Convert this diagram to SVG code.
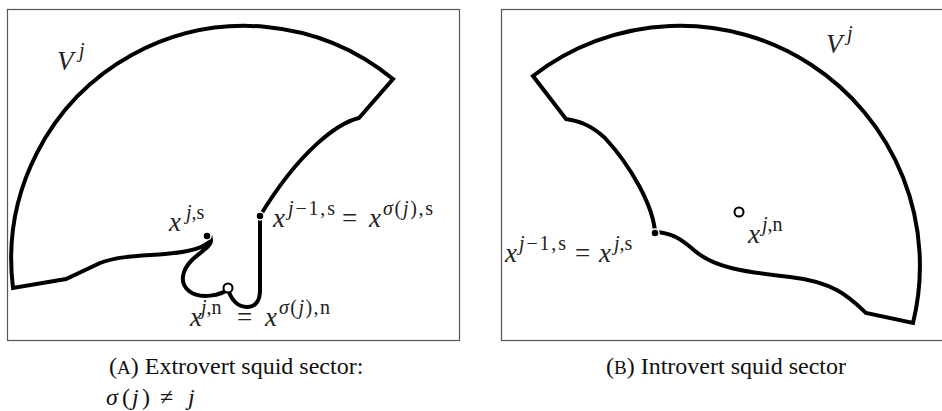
<svg xmlns="http://www.w3.org/2000/svg" width="942" height="411" viewBox="0 0 942 411">
<style>
.frame{fill:none;stroke:#555;stroke-width:1.2}
.shape{fill:none;stroke:#000;stroke-width:4;stroke-linejoin:miter;stroke-linecap:round}
.dot{fill:#000;stroke:#fff;stroke-width:1.5}
.odot{fill:#fff;stroke:#000;stroke-width:2}
.m{font-family:"Liberation Serif","Times New Roman",serif;font-size:27px;fill:#222}
.s{font-size:20px}
.i{font-style:italic}
.cap{font-family:"Liberation Serif","Times New Roman",serif;font-size:24px;fill:#111}
</style>
<rect width="942" height="411" fill="#fff"/>
<g id="panel-a">
  <rect class="frame" x="7.5" y="9.5" width="452" height="331"/>
  <path class="shape" d="M260 216 L260 290 C260 300 256 307 247 307 C238 307 231 300 228 289 C222 295 200 300 189 291 C179 283 182 270 192 260 C200 252 212 246 211 240 C205 248 190 252 165 254 C140 256 118 256 100 263 L66 279 L13 288 A233.5 233.5 0 0 1 393 79 L359 118 C338 123 300 150 260 216 Z"/>
  <circle class="dot" cx="260" cy="216" r="4"/>
  <circle class="dot" cx="207" cy="236" r="4"/>
  <circle class="odot" cx="228" cy="288" r="4.5"/>
  <g id="label-a-V">
    <text class="m i" x="57" y="70">V</text>
    <text class="m s i" x="79" y="57">j</text>
  </g>
  <g id="label-a-xjs">
    <text class="m i" x="169" y="231">x</text>
    <text class="m s" x="186" y="219"><tspan class="i">j</tspan>,s</text>
  </g>
  <g id="label-a-xj1s">
    <text class="m i" x="273" y="227">x</text>
    <text class="m s" x="288" y="215" textLength="47" lengthAdjust="spacing"><tspan class="i">j</tspan>−1,s</text>
    <text class="m" x="342" y="227">=</text>
    <text class="m i" x="369" y="227">x</text>
    <text class="m s" x="383" y="215" textLength="50" lengthAdjust="spacing"><tspan class="i">σ</tspan>(<tspan class="i">j</tspan>),s</text>
  </g>
  <g id="label-a-xjn">
    <text class="m i" x="190" y="326">x</text>
    <text class="m s" x="201" y="314"><tspan class="i">j</tspan>,n</text>
    <text class="m" x="237" y="326">=</text>
    <text class="m i" x="265" y="326">x</text>
    <text class="m s" x="279" y="314" textLength="51" lengthAdjust="spacing"><tspan class="i">σ</tspan>(<tspan class="i">j</tspan>),n</text>
  </g>
</g>
<g id="panel-b">
  <rect class="frame" x="501.5" y="9.5" width="460" height="331"/>
  <path class="shape" d="M655 232 C653 205 630 165 605 138 C590 124 578 121 566 119 L533 76 A240 240 0 0 1 913 323 L866 313 C850 298 835 282 790 277 C745 272 715 268 695 251 C680 238 672 233 655 232 Z"/>
  <circle class="dot" cx="655" cy="233" r="4"/>
  <circle class="odot" cx="739" cy="212" r="4.5"/>
  <g id="label-b-V">
    <text class="m i" x="826" y="53">V</text>
    <text class="m s i" x="847" y="40">j</text>
  </g>
  <g id="label-b-xjn">
    <text class="m i" x="748" y="243">x</text>
    <text class="m s" x="762" y="231"><tspan class="i">j</tspan>,n</text>
  </g>
  <g id="label-b-xj1s">
    <text class="m i" x="505" y="262">x</text>
    <text class="m s" x="519" y="250" textLength="47" lengthAdjust="spacing"><tspan class="i">j</tspan>−1,s</text>
    <text class="m" x="575" y="262">=</text>
    <text class="m i" x="599" y="262">x</text>
    <text class="m s" x="614" y="250"><tspan class="i">j</tspan>,s</text>
  </g>
</g>
<g id="captions">
  <text class="cap" x="109" y="374">(<tspan font-size="19">A</tspan>) Extrovert squid sector:</text>
  <text class="cap" y="405"><tspan class="i" x="106">σ</tspan><tspan x="122">(</tspan><tspan class="i" x="132">j</tspan><tspan x="142">)</tspan><tspan x="160">≠</tspan><tspan class="i" x="188">j</tspan></text>
  <text class="cap" x="606" y="374">(<tspan font-size="19">B</tspan>) Introvert squid sector</text>
</g>
</svg>
